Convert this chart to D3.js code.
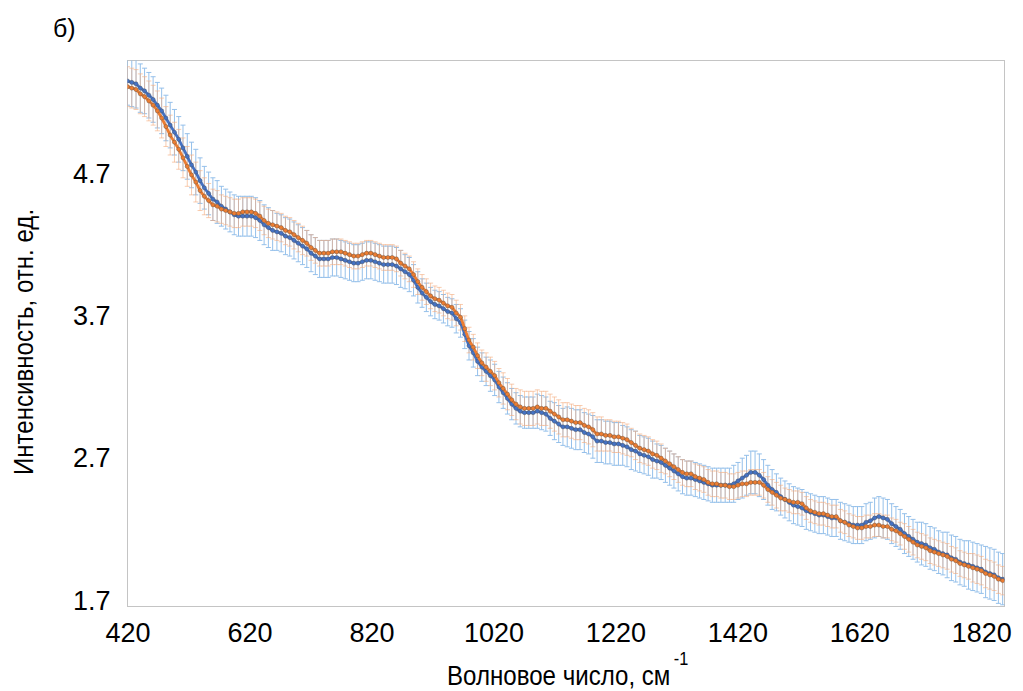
<!DOCTYPE html>
<html>
<head>
<meta charset="utf-8">
<script src="https://cdn.jsdelivr.net/npm/d3@7"></script>
<style>
  body { margin: 0; background: #fff; }
  svg { display: block; }
</style>
</head>
<body>
<svg id="chart" width="1023" height="691"></svg>
<script>
// Raman spectra: mean intensity of two sample groups with standard deviation
const wavenumbers = [
  420,427,434,441,448,455,462,469,476,483,490,497,504,511,
  518,525,532,539,546,553,560,567,574,581,588,595,602,609,
  616,623,630,637,644,651,658,665,672,679,686,693,700,707,
  714,721,728,735,742,749,756,763,770,777,784,791,798,805,
  812,819,826,833,840,847,854,861,868,875,882,889,896,903,
  910,917,924,931,938,945,952,959,966,973,980,987,994,1001,
  1008,1015,1022,1029,1036,1043,1050,1057,1064,1071,1078,1085,1092,1099,
  1106,1113,1120,1127,1134,1141,1148,1155,1162,1169,1176,1183,1190,1197,
  1204,1211,1218,1225,1232,1239,1246,1253,1260,1267,1274,1281,1288,1295,
  1302,1309,1316,1323,1330,1337,1344,1351,1358,1365,1372,1379,1386,1393,
  1400,1407,1414,1421,1428,1435,1442,1449,1456,1463,1470,1477,1484,1491,
  1498,1505,1512,1519,1526,1533,1540,1547,1554,1561,1568,1575,1582,1589,
  1596,1603,1610,1617,1624,1631,1638,1645,1652,1659,1666,1673,1680,1687,
  1694,1701,1708,1715,1722,1729,1736,1743,1750,1757,1764,1771,1778,1785,
  1792,1799,1806,1813,1820,1827,1834,1841,1848,1855
];

const blueMean = [
  5.35,5.34,5.33,5.30,5.28,5.25,5.22,5.18,5.14,5.09,5.04,4.99,4.94,4.88,
  4.82,4.76,4.71,4.65,4.60,4.56,4.52,4.50,4.47,4.45,4.43,4.41,4.40,4.40,
  4.40,4.40,4.39,4.37,4.34,4.32,4.30,4.29,4.28,4.26,4.25,4.23,4.21,4.19,
  4.17,4.14,4.12,4.10,4.10,4.10,4.11,4.11,4.10,4.09,4.08,4.07,4.07,4.08,
  4.09,4.09,4.08,4.07,4.06,4.06,4.06,4.05,4.03,4.01,3.99,3.95,3.90,3.86,
  3.83,3.80,3.78,3.77,3.75,3.73,3.72,3.68,3.65,3.57,3.49,3.44,3.38,3.34,
  3.31,3.28,3.25,3.20,3.16,3.12,3.08,3.05,3.03,3.02,3.02,3.02,3.03,3.02,
  3.01,2.98,2.96,2.94,2.92,2.92,2.91,2.90,2.90,2.88,2.87,2.85,2.82,2.82,
  2.81,2.81,2.80,2.80,2.79,2.78,2.76,2.75,2.73,2.72,2.71,2.69,2.68,2.67,
  2.65,2.63,2.61,2.59,2.57,2.56,2.56,2.55,2.54,2.53,2.52,2.51,2.51,2.51,
  2.51,2.51,2.52,2.54,2.56,2.58,2.60,2.60,2.58,2.55,2.51,2.48,2.46,2.43,
  2.41,2.39,2.37,2.36,2.35,2.33,2.32,2.31,2.30,2.30,2.29,2.28,2.28,2.26,
  2.25,2.24,2.23,2.23,2.23,2.25,2.26,2.28,2.29,2.28,2.27,2.24,2.22,2.20,
  2.17,2.15,2.13,2.11,2.10,2.09,2.07,2.06,2.04,2.03,2.02,2.00,1.99,1.97,
  1.96,1.95,1.94,1.93,1.92,1.90,1.89,1.88,1.86,1.85
];

const blueSd = [
  0.17,0.17,0.17,0.17,0.16,0.16,0.16,0.16,0.16,0.16,0.16,0.16,0.16,0.16,
  0.16,0.16,0.16,0.16,0.15,0.15,0.15,0.15,0.14,0.14,0.14,0.14,0.14,0.14,
  0.14,0.14,0.14,0.14,0.14,0.14,0.14,0.13,0.13,0.13,0.13,0.13,0.13,0.13,
  0.13,0.13,0.13,0.13,0.13,0.13,0.13,0.13,0.13,0.13,0.13,0.13,0.13,0.13,
  0.13,0.13,0.13,0.13,0.13,0.13,0.13,0.13,0.13,0.12,0.12,0.11,0.11,0.10,
  0.10,0.10,0.10,0.10,0.10,0.10,0.10,0.10,0.10,0.10,0.10,0.10,0.10,0.10,
  0.10,0.11,0.11,0.11,0.11,0.11,0.11,0.11,0.11,0.11,0.11,0.11,0.12,0.12,
  0.12,0.12,0.13,0.13,0.13,0.14,0.14,0.14,0.14,0.14,0.14,0.15,0.15,0.15,
  0.15,0.15,0.15,0.15,0.14,0.14,0.14,0.14,0.13,0.13,0.13,0.13,0.12,0.12,
  0.12,0.12,0.12,0.12,0.12,0.12,0.12,0.12,0.12,0.12,0.12,0.12,0.12,0.12,
  0.12,0.12,0.13,0.13,0.14,0.14,0.15,0.15,0.15,0.14,0.14,0.14,0.13,0.13,
  0.13,0.13,0.13,0.13,0.13,0.13,0.13,0.13,0.13,0.13,0.13,0.13,0.13,0.13,
  0.13,0.13,0.13,0.13,0.13,0.13,0.13,0.14,0.14,0.14,0.14,0.14,0.14,0.14,
  0.14,0.14,0.14,0.14,0.15,0.15,0.15,0.15,0.15,0.15,0.16,0.16,0.16,0.16,
  0.16,0.17,0.17,0.17,0.17,0.18,0.18,0.18,0.18,0.18
];

const orangeMean = [
  5.31,5.30,5.29,5.26,5.24,5.21,5.18,5.14,5.09,5.03,4.97,4.92,4.87,4.81,
  4.75,4.69,4.64,4.58,4.54,4.51,4.48,4.47,4.45,4.44,4.43,4.42,4.42,4.43,
  4.43,4.43,4.42,4.40,4.37,4.35,4.34,4.33,4.32,4.30,4.29,4.27,4.25,4.23,
  4.21,4.18,4.16,4.14,4.14,4.14,4.15,4.15,4.15,4.14,4.13,4.12,4.12,4.13,
  4.14,4.14,4.13,4.12,4.11,4.11,4.11,4.10,4.07,4.05,4.03,3.99,3.94,3.90,
  3.87,3.84,3.82,3.81,3.79,3.77,3.76,3.72,3.69,3.61,3.53,3.48,3.42,3.37,
  3.34,3.31,3.28,3.23,3.19,3.15,3.11,3.08,3.06,3.05,3.05,3.05,3.06,3.05,
  3.05,3.03,3.01,2.99,2.97,2.97,2.96,2.95,2.95,2.93,2.92,2.90,2.87,2.87,
  2.86,2.86,2.85,2.85,2.84,2.83,2.81,2.79,2.77,2.76,2.75,2.73,2.72,2.70,
  2.68,2.66,2.64,2.62,2.60,2.59,2.59,2.57,2.56,2.55,2.53,2.52,2.52,2.51,
  2.51,2.50,2.50,2.51,2.52,2.52,2.53,2.53,2.53,2.51,2.48,2.46,2.44,2.42,
  2.41,2.40,2.39,2.39,2.38,2.35,2.33,2.32,2.31,2.31,2.30,2.29,2.29,2.26,
  2.25,2.23,2.22,2.21,2.21,2.22,2.22,2.23,2.23,2.22,2.22,2.20,2.19,2.17,
  2.15,2.13,2.11,2.09,2.08,2.07,2.05,2.04,2.03,2.02,2.01,1.99,1.98,1.96,
  1.95,1.94,1.93,1.92,1.91,1.89,1.88,1.87,1.85,1.84
];

const orangeSd = [
  0.14,0.14,0.14,0.14,0.14,0.14,0.14,0.14,0.14,0.14,0.14,0.14,0.14,0.14,
  0.14,0.14,0.14,0.14,0.13,0.12,0.11,0.11,0.10,0.10,0.10,0.10,0.10,0.10,
  0.10,0.10,0.10,0.10,0.10,0.10,0.10,0.10,0.10,0.10,0.10,0.10,0.10,0.10,
  0.09,0.09,0.09,0.09,0.09,0.09,0.09,0.09,0.09,0.09,0.09,0.09,0.09,0.09,
  0.09,0.09,0.09,0.09,0.09,0.09,0.09,0.09,0.09,0.09,0.09,0.09,0.09,0.09,
  0.09,0.09,0.09,0.09,0.09,0.09,0.09,0.09,0.09,0.09,0.09,0.09,0.09,0.09,
  0.10,0.10,0.10,0.10,0.11,0.11,0.11,0.11,0.12,0.12,0.12,0.12,0.12,0.12,
  0.12,0.12,0.12,0.12,0.12,0.12,0.12,0.12,0.12,0.12,0.12,0.12,0.12,0.12,
  0.11,0.11,0.11,0.11,0.11,0.11,0.10,0.10,0.10,0.10,0.10,0.10,0.10,0.10,
  0.09,0.09,0.09,0.09,0.09,0.09,0.09,0.09,0.09,0.09,0.09,0.09,0.09,0.09,
  0.09,0.09,0.09,0.09,0.09,0.09,0.09,0.09,0.09,0.09,0.09,0.09,0.09,0.09,
  0.08,0.08,0.08,0.08,0.08,0.08,0.08,0.08,0.08,0.08,0.08,0.08,0.08,0.08,
  0.08,0.08,0.08,0.08,0.08,0.08,0.08,0.08,0.08,0.08,0.08,0.08,0.08,0.08,
  0.09,0.09,0.09,0.09,0.09,0.09,0.09,0.09,0.09,0.09,0.09,0.09,0.09,0.09,
  0.09,0.09,0.10,0.10,0.10,0.10,0.10,0.10,0.10,0.10
];

const xTickValues = [420, 620, 820, 1020, 1220, 1420, 1620, 1820];
const yTickValues = [1.7, 2.7, 3.7, 4.7];

const series = [
  { name: "blue",   mean: blueMean,   sd: blueSd,   line: "#4472c4", bar: "#8fbde9", barOpacity: 0.95 },
  { name: "orange", mean: orangeMean, sd: orangeSd, line: "#ed7d31", bar: "#f3ad80", barOpacity: 0.62 }
];

const svg = d3.select("#chart");
const frame = { left: 127.5, top: 60.5, right: 1004.5, bottom: 606.5 };

const x = d3.scaleLinear().domain([420, 1858]).range([frame.left, frame.right]);
const y = d3.scaleLinear().domain([1.658, 5.494]).range([frame.bottom, frame.top]);

svg.append("defs").append("clipPath").attr("id", "plot-clip")
  .append("rect")
  .attr("x", frame.left).attr("y", frame.top)
  .attr("width", frame.right - frame.left).attr("height", frame.bottom - frame.top);

// plot frame
svg.append("rect")
  .attr("x", frame.left).attr("y", frame.top)
  .attr("width", frame.right - frame.left).attr("height", frame.bottom - frame.top)
  .attr("fill", "none").attr("stroke", "#c4c4c4").attr("stroke-width", 1);

const plot = svg.append("g").attr("clip-path", "url(#plot-clip)");

// error bars (standard deviation) with caps
const capHalf = 2.5;
series.forEach(s => {
  const g = plot.append("g").attr("class", "err-" + s.name)
    .attr("stroke", s.bar).attr("stroke-opacity", s.barOpacity)
    .attr("stroke-width", 1).attr("fill", "none");
  const p = d3.path();
  wavenumbers.forEach((w, i) => {
    const cx = x(w);
    const y0 = y(s.mean[i] - s.sd[i]);
    const y1 = y(s.mean[i] + s.sd[i]);
    p.moveTo(cx, y0); p.lineTo(cx, y1);
    p.moveTo(cx - capHalf, y0); p.lineTo(cx + capHalf, y0);
    p.moveTo(cx - capHalf, y1); p.lineTo(cx + capHalf, y1);
  });
  g.append("path").attr("d", p.toString());
});

// mean lines with markers
const line = d3.line().x((d, i) => x(wavenumbers[i])).y(d => y(d)).curve(d3.curveMonotoneX);
series.forEach(s => {
  plot.append("path")
    .datum(s.mean)
    .attr("d", line)
    .attr("fill", "none")
    .attr("stroke", s.line)
    .attr("stroke-width", 2.8);
  plot.append("g").selectAll("circle")
    .data(s.mean)
    .join("circle")
    .attr("cx", (d, i) => x(wavenumbers[i]))
    .attr("cy", d => y(d))
    .attr("r", 2.1)
    .attr("fill", s.line)
    .attr("stroke", "#4d4d4d")
    .attr("stroke-opacity", 0.55)
    .attr("stroke-width", 0.7);
});

// axes
const fontFamily = "'Liberation Sans', Arial, Helvetica, sans-serif";

const xAxis = svg.append("g")
  .attr("transform", `translate(0,${frame.bottom})`)
  .call(d3.axisBottom(x).tickValues(xTickValues).tickSize(0).tickPadding(16).tickFormat(d3.format("d")));
xAxis.select(".domain").remove();
xAxis.selectAll("text").attr("font-size", 27).attr("font-family", fontFamily).attr("fill", "#000");

const yAxis = svg.append("g")
  .attr("transform", `translate(${frame.left},0)`)
  .call(d3.axisLeft(y).tickValues(yTickValues).tickSize(0).tickPadding(17).tickFormat(d3.format(".1f")));
yAxis.select(".domain").remove();
yAxis.selectAll("text").attr("font-size", 27).attr("font-family", fontFamily).attr("fill", "#000");

// axis titles (narrowed horizontally)
const xTitle = svg.append("text")
  .attr("transform", "translate(447,685) scale(0.86,1)")
  .attr("font-size", 28).attr("font-family", fontFamily).attr("fill", "#000");
xTitle.append("tspan").text("Волновое число, см");
xTitle.append("tspan")
  .attr("dx", 4).attr("dy", -20)
  .attr("font-size", 19)
  .text("-1");

svg.append("text")
  .attr("transform", "translate(33,342) rotate(-90) scale(0.86,1)")
  .attr("text-anchor", "middle")
  .attr("font-size", 28).attr("font-family", fontFamily).attr("fill", "#000")
  .text("Интенсивность, отн. ед.");

// panel label
svg.append("text")
  .attr("x", 53).attr("y", 37)
  .attr("font-size", 25).attr("font-family", fontFamily).attr("fill", "#000")
  .text("б)");
</script>
</body>
</html>
